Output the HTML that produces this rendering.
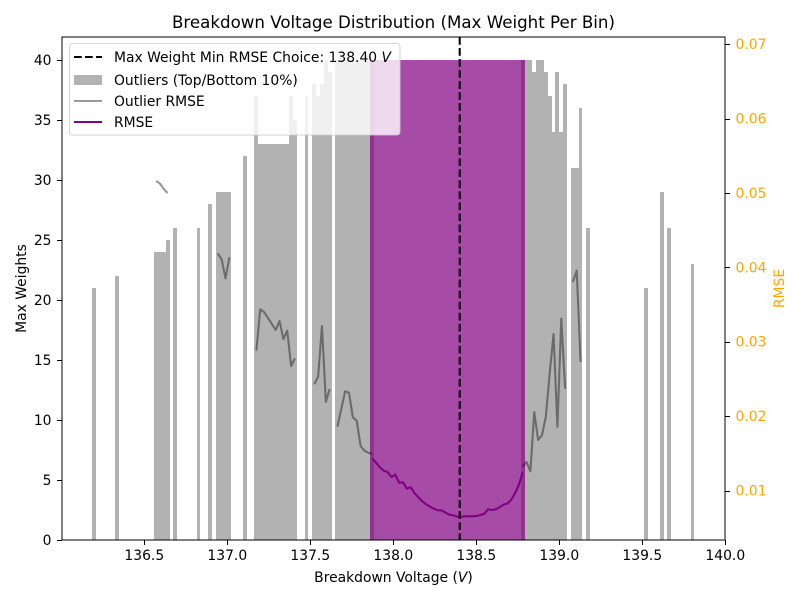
<!DOCTYPE html>
<html>
<head>
<meta charset="utf-8">
<title>Breakdown Voltage Distribution</title>
<style>
html,body{margin:0;padding:0;background:#fff;width:800px;height:600px;overflow:hidden}
svg{display:block}
text{font-family:"DejaVu Sans","Liberation Sans",sans-serif;font-size:13.89px;fill:#000}
</style>
</head>
<body>
<svg id="chart" xmlns="http://www.w3.org/2000/svg" width="800" height="600" viewBox="0 0 800 600">
  <rect x="0" y="0" width="800" height="600" fill="#fff"/>
  <g id="bars" shape-rendering="crispEdges"></g>
  <g id="lines"></g>
  <g id="axes"></g>
  <text x="393.5" y="28" text-anchor="middle" style="font-size:16.67px">Breakdown Voltage Distribution (Max Weight Per Bin)</text>
  <text x="393.5" y="582" text-anchor="middle">Breakdown Voltage (<tspan font-style="italic">V</tspan>)</text>
  <text transform="translate(26 288.5) rotate(-90)" text-anchor="middle">Max Weights</text>
  <text transform="translate(784 288.5) rotate(-90)" text-anchor="middle" style="fill:#ffa500">RMSE</text>
  <g>
    <rect x="69.5" y="43.5" width="330.5" height="91.5" rx="3" ry="3" fill="#fff" fill-opacity="0.8" stroke="#ccc" stroke-opacity="0.8" stroke-width="1.1"/>
    <g>
      <line x1="74" x2="102" y1="57" y2="57" stroke="#000" stroke-width="2.08" stroke-dasharray="7.7 3.33"/>
      <text x="114" y="62">Max Weight Min RMSE Choice: 138.40 <tspan font-style="italic">V</tspan></text>
    </g>
    <g>
      <rect x="74" y="75" width="28" height="10" fill="#000" fill-opacity="0.3"/>
      <text x="114" y="85">Outliers (Top/Bottom 10%)</text>
    </g>
    <g>
      <line x1="74" x2="102" y1="101" y2="101" stroke="#000" stroke-opacity="0.4" stroke-width="2.08"/>
      <text x="114" y="106">Outlier RMSE</text>
    </g>
    <g>
      <line x1="74" x2="102" y1="122" y2="122" stroke="#800080" stroke-width="2.08"/>
      <text x="114" y="127">RMSE</text>
    </g>
  </g>
</svg>
<script>
var binStart = 136.187;
var binWidth = 0.02325;
var choiceVoltage = 138.40;

var xTickValues = [136.5, 137.0, 137.5, 138.0, 138.5, 139.0, 139.5, 140.0];
var xTickLabels = ["136.5", "137.0", "137.5", "138.0", "138.5", "139.0", "139.5", "140.0"];
var yTickValues = [0, 5, 10, 15, 20, 25, 30, 35, 40];
var yTickLabels = ["0", "5", "10", "15", "20", "25", "30", "35", "40"];
var rTickValues = [0.01, 0.02, 0.03, 0.04, 0.05, 0.06, 0.07];
var rTickLabels = ["0.01", "0.02", "0.03", "0.04", "0.05", "0.06", "0.07"];

var outlierBins = [0, 6, 16, 17, 18, 19, 21, 27, 30, 32, 33, 34, 35, 39,
  42, 43, 44, 45, 46, 47, 48, 49, 50, 51, 52, 55, 57, 58, 59, 60, 61,
  63, 64, 65, 66, 67, 68, 69, 70, 71, 72, 111,
  112, 113, 114, 115, 116, 117, 118, 119, 120, 121, 122, 124, 125, 126, 128,
  143, 147, 149, 155];
var outlierWeights = [21, 22, 24, 24, 24, 25, 26, 26, 28, 29, 29, 29, 29, 32,
  37, 33, 33, 33, 33, 33, 33, 33, 33, 37, 35, 37, 38, 37, 38, 40, 39,
  40, 40, 40, 40, 40, 40, 40, 40, 40, 40, 40,
  40, 40, 39, 40, 40, 39, 37, 34, 39, 34, 38, 31, 31, 36, 26,
  21, 29, 26, 23];

var mainFirstBin = 72;
var mainWeights = [40, 40, 40, 40, 40, 40, 40, 40, 40, 40, 40, 40, 40, 40, 40, 40, 40, 40, 40, 40,
  40, 40, 40, 40, 40, 40, 40, 40, 40, 40, 40, 40, 40, 40, 40, 40, 40, 40, 40, 40];

var rmseValues = [0.01432, 0.01374, 0.01311, 0.01267, 0.01249, 0.01181, 0.01213, 0.01105, 0.0111, 0.01025,
  0.01043, 0.00962, 0.00908, 0.00854, 0.00814, 0.00783, 0.00756, 0.00733, 0.00733, 0.00702,
  0.00675, 0.00666, 0.00648, 0.00648, 0.00653, 0.00653, 0.00653, 0.00657, 0.00671, 0.00684,
  0.00747, 0.00738, 0.00747, 0.00774, 0.0081, 0.00823, 0.00872, 0.00962, 0.01074, 0.01244];

var outlierSegmentStarts = [16, 32, 42, 57, 63, 111, 124];
var outlierRmseA = [0.0516, 0.05126, 0.05052, 0.04999];
var outlierRmseB = [0.04188, 0.04108, 0.03852, 0.04134];
var outlierRmseC = [0.02879, 0.03435, 0.03399, 0.03319, 0.03238, 0.03157, 0.03278, 0.03036, 0.03148, 0.02673, 0.02777];
var outlierRmseD = [0.02427, 0.0253, 0.03211, 0.0219, 0.02364];
var outlierRmseE = [0.01858, 0.02095, 0.02333, 0.02315, 0.01984, 0.01938, 0.01598, 0.01535, 0.01508, 0.01491];
var outlierRmseF = [0.0132, 0.01383, 0.01258, 0.02055, 0.01679, 0.01742, 0.01992, 0.02575, 0.03103, 0.01858, 0.03309, 0.02368];
var outlierRmseG = [0.03802, 0.03954, 0.02727];
var outlierSegments = [outlierRmseA, outlierRmseB, outlierRmseC, outlierRmseD, outlierRmseE, outlierRmseF, outlierRmseG];

var NS = "http://www.w3.org/2000/svg";
var PLOT = {left: 62, right: 725, top: 37, bottom: 540};

function xScale(v) { return 393.3 + 166 * (v - 138); }
function yScale(v) { return PLOT.bottom - 12 * v; }
function rScale(v) { return 490.5 - 7440 * (v - 0.01); }
function binLeft(i) { return binStart + i * binWidth; }
function binCenter(i) { return binLeft(i) + binWidth / 2; }

function make(tag, attrs, parent) {
  var el = document.createElementNS(NS, tag);
  for (var k in attrs) { el.setAttribute(k, attrs[k]); }
  parent.appendChild(el);
  return el;
}

var barsGroup = document.getElementById("bars");
var linesGroup = document.getElementById("lines");
var axesGroup = document.getElementById("axes");

function drawBar(i, weight, fill, opacity, parent) {
  var x0 = Math.round(xScale(binLeft(i)));
  var x1 = Math.round(xScale(binLeft(i + 1)));
  var y0 = Math.round(yScale(weight));
  var r = make("rect", {x: x0, y: y0, width: x1 - x0, height: PLOT.bottom - y0, fill: fill, "fill-opacity": opacity}, parent);
  return r;
}

outlierBins.forEach(function (bin, n) {
  var r = drawBar(bin, outlierWeights[n], "#000", 0.3, barsGroup);
  
  
});

mainWeights.forEach(function (w, n) {
  var r = drawBar(mainFirstBin + n, w, "#800080", 0.7, barsGroup);
  
  
});

function linePoints(start, values) {
  return values.map(function (v, n) {
    return xScale(binCenter(start + n)).toFixed(2) + "," + rScale(v).toFixed(2);
  }).join(" ");
}

outlierSegments.forEach(function (values, n) {
  var p = make("polyline", {points: linePoints(outlierSegmentStarts[n], values), fill: "none", stroke: "#000", "stroke-opacity": 0.4, "stroke-width": 2.08, "stroke-linejoin": "round"}, linesGroup);
  
  
});

var rmseLine = make("polyline", {points: linePoints(mainFirstBin, rmseValues), fill: "none", stroke: "#800080", "stroke-width": 2.08, "stroke-linejoin": "round"}, linesGroup);



var choiceLine = make("line", {x1: xScale(choiceVoltage), x2: xScale(choiceVoltage), y1: PLOT.top, y2: PLOT.bottom, stroke: "#000", "stroke-width": 2.08, "stroke-dasharray": "7.7 3.33"}, linesGroup);



var frame = make("rect", {x: PLOT.left, y: PLOT.top, width: PLOT.right - PLOT.left, height: PLOT.bottom - PLOT.top, fill: "none", stroke: "#000", "stroke-width": 1.1, "shape-rendering": "crispEdges"}, axesGroup);



xTickValues.forEach(function (v, n) {
  var x = Math.round(xScale(v)) + 0.5;
  var t = make("line", {x1: x, x2: x, y1: PLOT.bottom, y2: PLOT.bottom + 5, stroke: "#000", "stroke-width": 1.1, "shape-rendering": "crispEdges"}, axesGroup);
  
  
  var l = make("text", {x: xScale(v), y: 560, "text-anchor": "middle"}, axesGroup);
  l.textContent = xTickLabels[n];
  
  
});

yTickValues.forEach(function (v, n) {
  var y = Math.round(yScale(v)) + 0.5;
  var t = make("line", {x1: PLOT.left - 5, x2: PLOT.left, y1: y, y2: y, stroke: "#000", "stroke-width": 1.1, "shape-rendering": "crispEdges"}, axesGroup);
  
  
  var l = make("text", {x: 51.5, y: yScale(v) + 5, "text-anchor": "end"}, axesGroup);
  l.textContent = yTickLabels[n];
  
  
});

rTickValues.forEach(function (v, n) {
  var y = Math.round(rScale(v)) + 0.5;
  var t = make("line", {x1: PLOT.right, x2: PLOT.right + 5, y1: y, y2: y, stroke: "#000", "stroke-width": 1.1, "shape-rendering": "crispEdges"}, axesGroup);
  
  
  var l = make("text", {x: 735.5, y: rScale(v) + 5, "text-anchor": "start", style: "fill:#ffa500"}, axesGroup);
  l.textContent = rTickLabels[n];
  
  
});
</script>
</body>
</html>
